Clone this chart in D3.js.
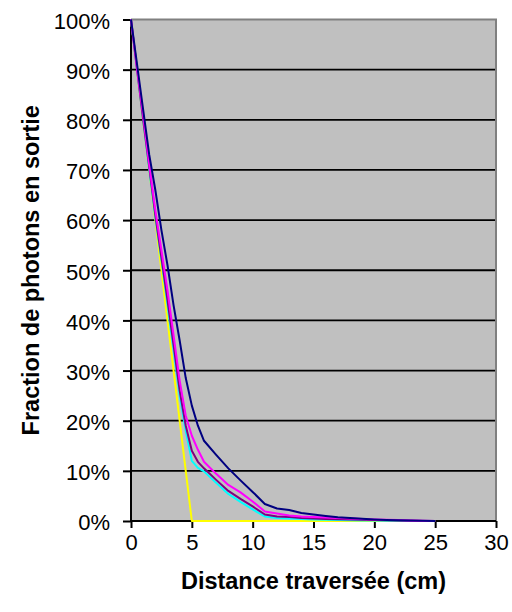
<!DOCTYPE html>
<html>
<head>
<meta charset="utf-8">
<script src="https://cdn.jsdelivr.net/npm/d3@7"></script>
<style>
  html, body { margin: 0; padding: 0; background: #fff; }
  svg { display: block; }
  text { font-family: "Liberation Sans", Arial, sans-serif; fill: #000; }
</style>
</head>
<body>
<svg id="chart" width="512" height="612"></svg>
<script>
// ---- data ----
const distanceCm = [0,0.5,1,1.5,2,2.5,3,3.5,4,4.5,5,5.5,6,7,8,9,10,11,12,13,14,15,16,17,18,19,20,21,22,23,24,25];
const serieNavy    = [100,91,82,73,66,58,51,43,36,28.5,23,19,16,13.2,10.5,8.1,5.8,3.4,2.5,2.2,1.6,1.3,1.0,0.75,0.6,0.45,0.3,0.2,0.15,0.1,0.05,0];
const serieMagenta = [100,90,81,71,62,54,46,37,28,21,17,14.2,11.8,9.4,7.2,5.7,3.9,1.9,1.5,1.1,0.9,0.8,0.7,0.6,0.5,0.4,0.3,0.25,0.2,0.1,0.05,0];
const seriePurple  = [100,90,80,70.5,61,52.5,44,35,26,19,14,11.8,10.5,8.2,6.0,4.4,2.9,1.3,0.9,0.8,0.6,0.5,0.4,0.35,0.3,0.25,0.2,0.15,0.1,0.05,0.02,0];
const serieCyan    = [100,90,80,70,60.5,52,43,34,25,18,12,10.6,9.9,7.6,5.4,3.8,2.3,0.9,0.6,0.5,0.4,0.3,0.25,0.2,0.15,0.1,0.08,0.05,0.03,0.02,0.01,0];
const theoryX = [0,5,25];
const theoryY = [100,0,0];
const xTicks = [0,5,10,15,20,25,30];
const yTicks = [0,10,20,30,40,50,60,70,80,90,100];
const xTitle = "Distance traversée (cm)";
const yTitle = "Fraction de photons en sortie";

// ---- layout ----
const L = 131, R = 496, T = 19.5, B = 521;
const svg = d3.select("#chart");
const x = d3.scaleLinear().domain([0, 30]).range([L, R]);
const y = d3.scaleLinear().domain([0, 100]).range([B, T]);

// plot background
svg.append("rect").attr("x", L).attr("y", T).attr("width", R - L).attr("height", B - T).attr("fill", "#c0c0c0");

// gridlines
svg.append("g").selectAll("line").data(yTicks.filter(d => d > 0 && d < 100)).join("line")
  .attr("x1", L).attr("x2", R).attr("y1", d => y(d)).attr("y2", d => y(d))
  .attr("stroke", "#000").attr("stroke-width", 1.8);

// top and right border (gray)
svg.append("line").attr("x1", L).attr("x2", R + 1).attr("y1", T).attr("y2", T).attr("stroke", "#808080").attr("stroke-width", 2);
svg.append("line").attr("x1", R).attr("x2", R).attr("y1", T).attr("y2", B).attr("stroke", "#808080").attr("stroke-width", 2);

// axes
const xAxis = d3.axisBottom(x).tickValues(xTicks).tickSize(7).tickPadding(6).tickFormat(d3.format("d"));
const gx = svg.append("g").attr("transform", `translate(0,${B})`).call(xAxis);
gx.select(".domain").attr("stroke", "#000").attr("stroke-width", 2).attr("d", `M${L},0H${R}`);
gx.selectAll(".tick line").attr("stroke", "#000").attr("stroke-width", 2);
gx.selectAll(".tick text").attr("font-size", 22).attr("dy", "0.71em").attr("font-family", "'Liberation Sans', Arial, sans-serif");

const yAxis = d3.axisLeft(y).tickValues(yTicks).tickSize(8).tickPadding(13).tickFormat(d => d + "%");
const gy = svg.append("g").attr("transform", `translate(${L},0)`).call(yAxis);
gy.select(".domain").attr("stroke", "#000").attr("stroke-width", 2).attr("d", `M0,${B}V${T}`);
gy.selectAll(".tick line").attr("stroke", "#000").attr("stroke-width", 2);
gy.selectAll(".tick text").attr("font-size", 22).attr("dy", "0.4em").attr("font-family", "'Liberation Sans', Arial, sans-serif");

// series (drawn over the axes, yellow first so the others cover it)
const series = [
  { xs: theoryX, ys: theoryY, color: "#ffff00" },
  { xs: distanceCm, ys: serieCyan, color: "#00ffff" },
  { xs: distanceCm, ys: seriePurple, color: "#800080" },
  { xs: distanceCm, ys: serieMagenta, color: "#ff00ff" },
  { xs: distanceCm, ys: serieNavy, color: "#000080" }
];
const line = d3.line().x(d => x(d[0])).y(d => y(d[1]));
svg.append("g").selectAll("path").data(series).join("path")
  .attr("d", s => line(s.xs.map((v, i) => [v, s.ys[i]])))
  .attr("fill", "none").attr("stroke", s => s.color).attr("stroke-width", 2)
  .attr("stroke-linejoin", "round");

// titles
svg.append("text").attr("x", (L + R) / 2).attr("y", 589).attr("text-anchor", "middle")
  .attr("font-size", 23.5).attr("font-weight", "bold").text(xTitle);
svg.append("text").attr("transform", `translate(39,${(T + B) / 2}) rotate(-90)`).attr("text-anchor", "middle")
  .attr("font-size", 23.5).attr("font-weight", "bold").text(yTitle);
</script>
</body>
</html>
